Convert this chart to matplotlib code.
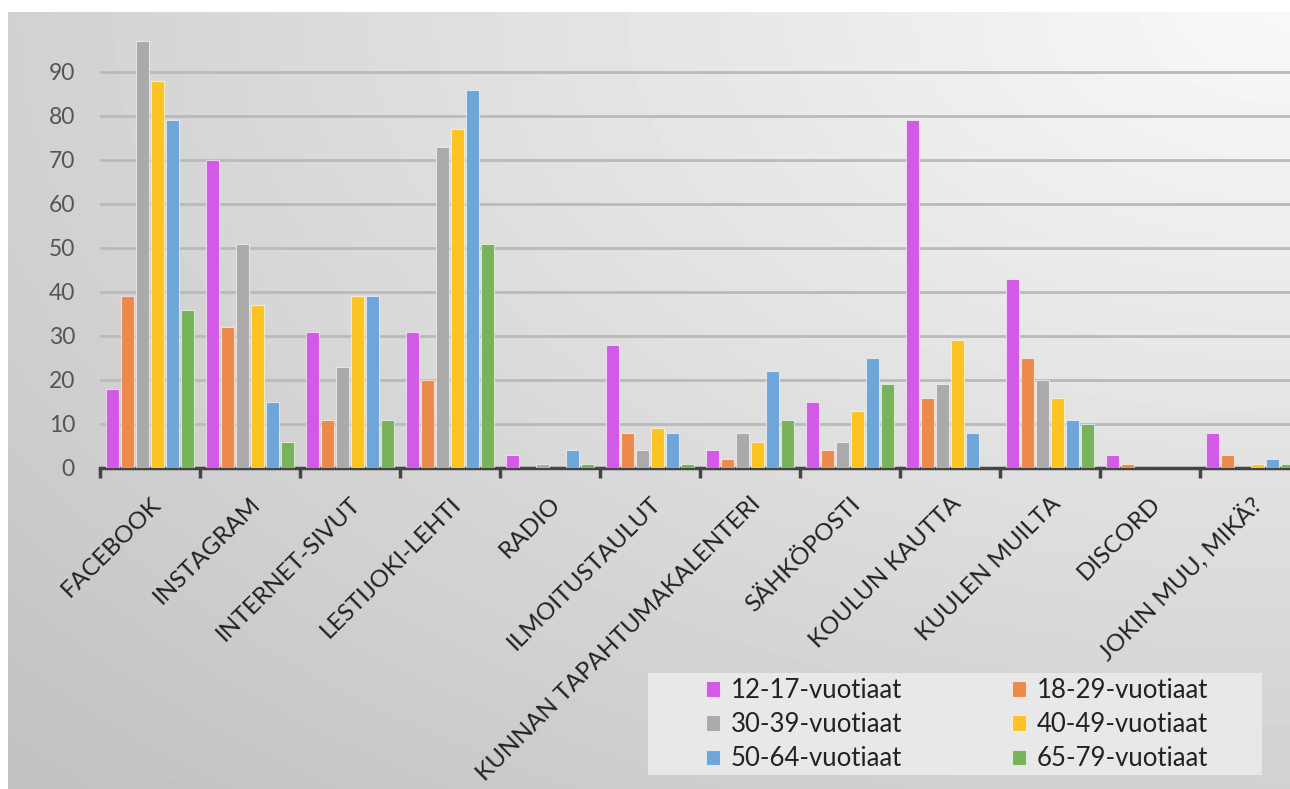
import matplotlib; matplotlib.use('Agg')
import matplotlib.pyplot as plt, numpy as np
from matplotlib.patches import Rectangle

plt.rcParams['font.family'] = ['Lato', 'DejaVu Sans']

categories = ['FACEBOOK', 'INSTAGRAM', 'INTERNET-SIVUT', 'LESTIJOKI-LEHTI', 'RADIO',
              'ILMOITUSTAULUT', 'KUNNAN TAPAHTUMAKALENTERI', 'SÄHKÖPOSTI',
              'KOULUN KAUTTA', 'KUULEN MUILTA', 'DISCORD', 'JOKIN MUU, MIKÄ?']
groups = ['12-17-vuotiaat', '18-29-vuotiaat', '30-39-vuotiaat',
          '40-49-vuotiaat', '50-64-vuotiaat', '65-79-vuotiaat']

age_12_17 = [18, 70, 31, 31, 3, 28, 4, 15, 79, 43, 3, 8]
age_18_29 = [39, 32, 11, 20, 0, 8, 2, 4, 16, 25, 1, 3]
age_30_39 = [97, 51, 23, 73, 1, 4, 8, 6, 19, 20, 0, 0]
age_40_49 = [88, 37, 39, 77, 0, 9, 6, 13, 29, 16, 0, 1]
age_50_64 = [79, 15, 39, 86, 4, 8, 22, 25, 8, 11, 0, 2]
age_65_79 = [36, 6, 11, 51, 1, 1, 11, 19, 0, 10, 0, 1]
series = [age_12_17, age_18_29, age_30_39, age_40_49, age_50_64, age_65_79]

COLORS = ['#d35ae6', '#ec8a4c', '#aaaaaa', '#fbc423', '#6fa6da', '#78b35b']

W, H = 1290, 789
fig = plt.figure(figsize=(W / 100, H / 100), dpi=100)

# gradient background of the chart area
bg = fig.add_axes([8 / W, 0, 1 - 8 / W, (H - 12) / H], zorder=-10)
yy, xx = np.mgrid[0:1:200j, 0:1:300j]
d = np.sqrt((1 - xx) ** 2 + (1 - yy) ** 2) / np.sqrt(2)
bg.imshow(0.975 - 0.22 * d, cmap='gray', vmin=0, vmax=1, origin='lower',
          aspect='auto', extent=[0, 1, 0, 1], interpolation='bicubic')
bg.axis('off')

ax = fig.add_axes([100 / W, 1 - 468 / H, 1200 / W, 440 / H])
ax.set_facecolor('none')

x = np.arange(len(categories))
bw = 0.15
handles = []
for i, (vals, g, c) in enumerate(zip(series, groups, COLORS)):
    b = ax.bar(x - 0.375 + i * bw, vals, width=bw * 0.9, color=c, label=g,
               edgecolor=(1, 1, 1, 0.6), linewidth=0.8, zorder=3)
    handles.append(b)

ax.set_xlim(-0.5, len(categories) - 0.5)
ax.set_ylim(0, 100)
ax.set_yticks(range(0, 100, 10))
ax.tick_params(axis='y', length=0, pad=18, labelsize=16.5, labelcolor='#555555')
for v in range(10, 100, 10):
    ax.axhline(v, color='#bababa', lw=2, zorder=1)

ax.set_xticks(np.arange(-0.5, len(categories), 1))
ax.set_xticklabels([])
ax.set_xticks(x, minor=True)
ax.set_xticklabels(categories, minor=True, rotation=45, ha='right',
                   rotation_mode='anchor', fontsize=17.5, color='#222222')
ax.tick_params(axis='x', which='major', length=7, width=2.5, color='#444444')
ax.tick_params(axis='x', which='minor', length=0, pad=18)

for s in ['top', 'right', 'left']:
    ax.spines[s].set_visible(False)
ax.spines['bottom'].set_color('#444444')
ax.spines['bottom'].set_linewidth(2.5)

# legend box
fig.patches.append(Rectangle((648 / W, 1 - 775 / H), 614 / W, 102 / H,
                             transform=fig.transFigure, facecolor='#e8e8e8',
                             edgecolor='none', zorder=5))
order = [0, 2, 4, 1, 3, 5]
leg = fig.legend([handles[k] for k in order], [groups[k] for k in order],
                 ncol=2, loc='upper left', bbox_to_anchor=(706 / W, 1 - 678 / H),
                 fontsize=18.5, frameon=False, borderpad=0, borderaxespad=0,
                 handlelength=0.55, handleheight=0.55, handletextpad=0.4,
                 columnspacing=4.3, labelspacing=0.36)
leg.set_zorder(6)
for t in leg.get_texts():
    t.set_color('#222222')

fig.savefig('out.png', dpi=100)
plt.close(fig)
